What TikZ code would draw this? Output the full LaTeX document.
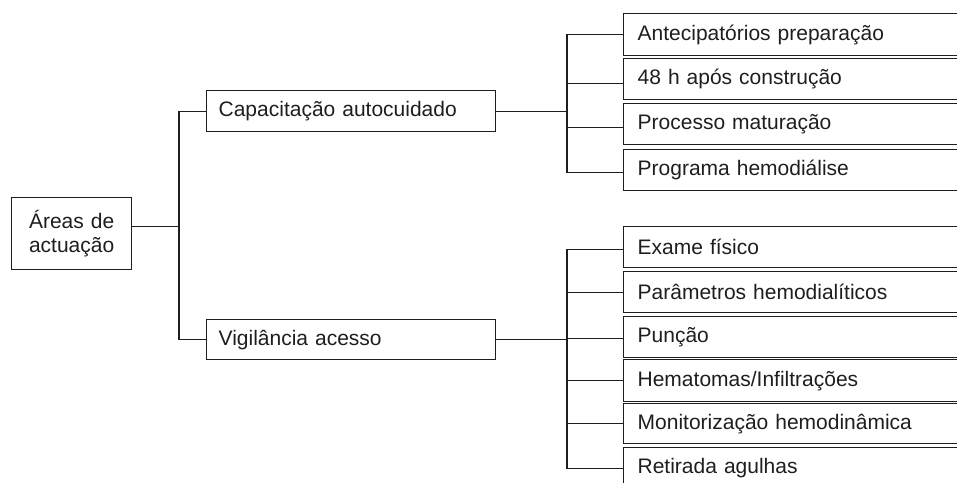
\documentclass[tikz,border=0pt]{standalone}
\usepackage{fontspec}
\setmainfont{Liberation Sans}
\definecolor{ink}{RGB}{30,30,30}
\begin{document}
\begin{tikzpicture}[x=1pt,y=-1pt,
  every node/.style={font=\fontsize{21}{24}\selectfont, text=ink},
  box/.style={draw=ink, line width=1.3pt, anchor=north west, inner ysep=0pt, align=left},
  rootbox/.style={box, align=center, inner xsep=4pt, text width=112pt, minimum height=72pt},
  midbox/.style={box, inner xsep=12pt, text width=265pt, minimum height=41pt},
  leafbox/.style={box, inner xsep=14pt, text width=372pt, minimum height=41pt},
  conn/.style={draw=ink, line width=1.3pt}
]
\useasboundingbox (0,0) rectangle (957,482);
\clip (0,0) rectangle (957,482);

\node[rootbox] (root) at (11,197) {Áreas de\\actuação};
\node[midbox] (cap) at (206,90) {Capacitação autocuidado};
\node[midbox, minimum height=40pt] (vig) at (206,319) {Vigilância acesso};

\node[leafbox, minimum height=42pt] (a1) at (623,13) {Antecipatórios preparação};
\node[leafbox] (a2) at (623,58) {48 h após construção};
\node[leafbox] (a3) at (623,103) {Processo maturação};
\node[leafbox] (a4) at (623,149) {Programa hemodiálise};

\node[leafbox] (b1) at (623,226) {Exame físico};
\node[leafbox] (b2) at (623,271) {Parâmetros hemodialíticos};
\node[leafbox] (b3) at (623,316) {Punção};
\node[leafbox, minimum height=42pt] (b4) at (623,359) {Hematomas/Infiltrações};
\node[leafbox, minimum height=40pt] (b5) at (623,403) {Monitorização hemodinâmica};
\node[leafbox] (b6) at (623,447) {Retirada agulhas};

\coordinate (T) at (179,112);
\coordinate (RA) at (567,112);
\coordinate (RB) at (567,339);

% root to level 1
\path[conn] (cap.west) -- (cap.west -| T) |- (vig.west);
\path[conn] ([yshift=7pt]root.east) -- ([yshift=7pt]root.east -| T);

% capacitacao group
\path[conn] (cap.east) -- (cap.east -| RA);
\path[conn] (a1.west) -- (a1.west -| RA) -- ([yshift=-2.5pt]a4.west -| RA) -- ([yshift=-2.5pt]a4.west);
\path[conn] ([yshift=-4.5pt]a2.west) -- ([yshift=-4.5pt]a2.west -| RA);
\path[conn] ([yshift=-3.5pt]a3.west) -- ([yshift=-3.5pt]a3.west -| RA);

% vigilancia group
\path[conn] (vig.east) -- (vig.east -| RB);
\path[conn] ([yshift=-2pt]b1.west) -- ([yshift=-2pt]b1.west -| RB) -- ([yshift=-0.5pt]b6.west -| RB) -- ([yshift=-0.5pt]b6.west);
\path[conn] (b2.west) -- (b2.west -| RB);
\path[conn] ([yshift=-1.5pt]b3.west) -- ([yshift=-1.5pt]b3.west -| RB);
\path[conn] (b4.west) -- (b4.west -| RB);
\path[conn] (b5.west) -- (b5.west -| RB);
\end{tikzpicture}
\end{document}
